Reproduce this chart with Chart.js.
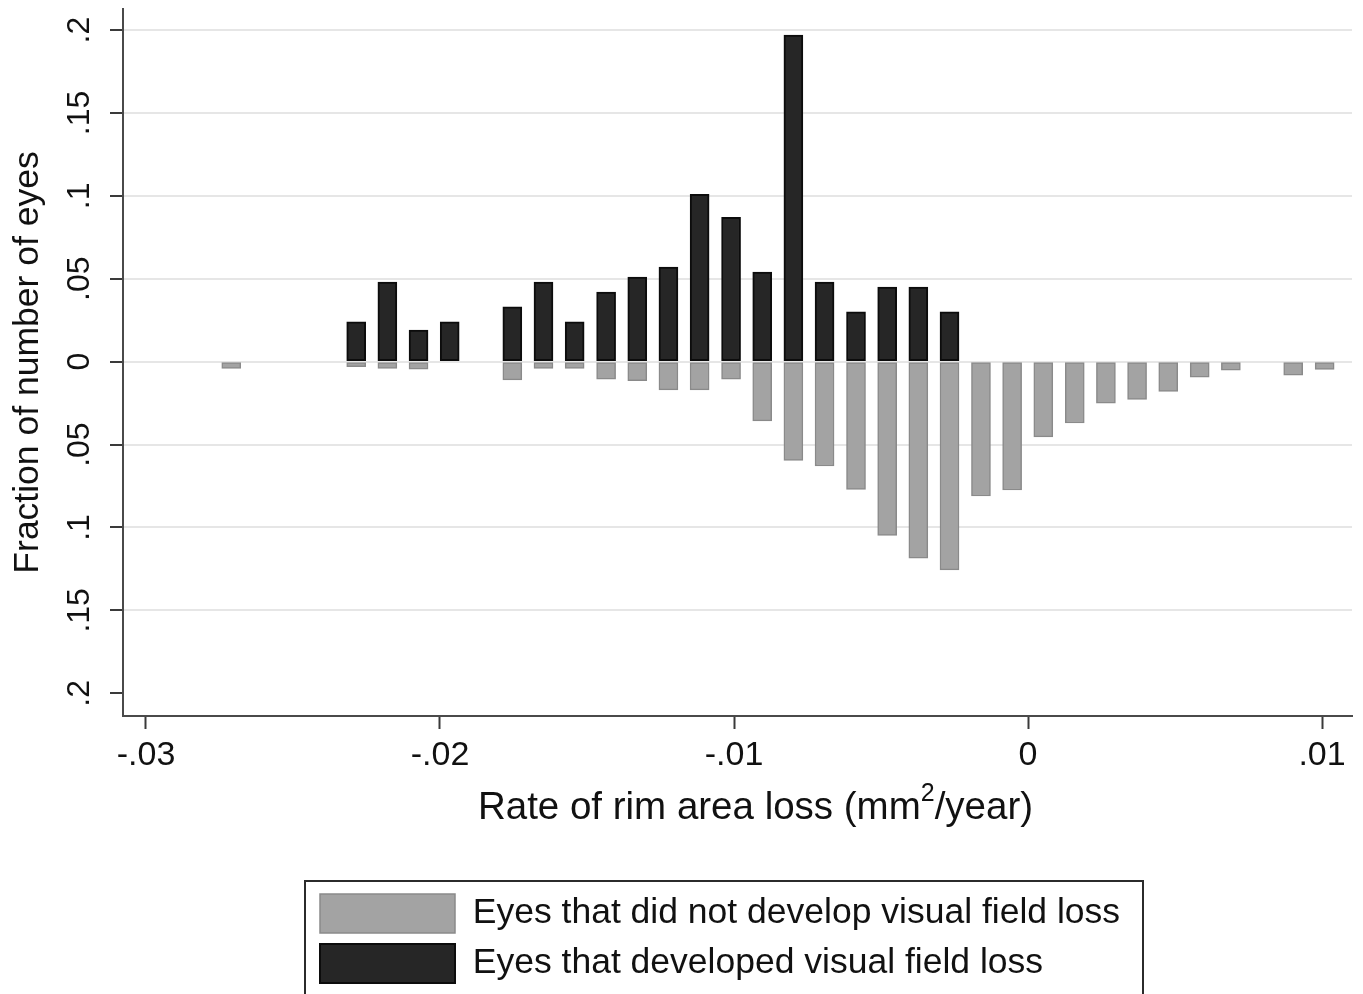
<!DOCTYPE html>
<html>
<head>
<meta charset="utf-8">
<script src="https://cdn.jsdelivr.net/npm/chart.js@4.4.1/dist/chart.umd.min.js"></script>
<style>
  html, body { margin: 0; padding: 0; background: #ffffff; }
  #wrap { width: 1363px; height: 994px; }
</style>
</head>
<body>
<div id="wrap"><canvas id="chart" width="1363" height="994"></canvas></div>
<script>
// Histogram bin midpoints, rate of rim area loss (mm²/year)
const binCenters = [
  -0.02710, -0.02285, -0.02179, -0.02073, -0.01967,
  -0.01754, -0.01648, -0.01542, -0.01435, -0.01329, -0.01223, -0.01117, -0.01010,
  -0.00904, -0.00798, -0.00692, -0.00585, -0.00479, -0.00373, -0.00267,
  -0.00160, -0.00054, 0.00052, 0.00159, 0.00265, 0.00371, 0.00477, 0.00584,
  0.00690, 0.00902, 0.01009
];

// Fraction of eyes that developed visual field loss (plotted upward)
const developedLoss = [
  null, 0.024, 0.048, 0.019, 0.024,
  0.033, 0.048, 0.024, 0.042, 0.051, 0.057, 0.101, 0.087,
  0.054, 0.197, 0.048, 0.030, 0.045, 0.045, 0.030,
  null, null, null, null, null, null, null, null,
  null, null, null
];

// Fraction of eyes that did not develop visual field loss (mirrored downward)
const noLoss = [
  -0.004, -0.003, -0.004, -0.0045, null,
  -0.011, -0.004, -0.004, -0.0105, -0.0115, -0.017, -0.017, -0.0105,
  -0.0357, -0.0596, -0.0629, -0.077, -0.1048, -0.1185, -0.1256,
  -0.081, -0.0774, -0.0454, -0.037, -0.025, -0.0228, -0.0179, -0.0094,
  -0.0052, -0.0082, -0.0046
];

const xTickValues = [-0.03, -0.02, -0.01, 0, 0.01];
const yTickValues = [-0.2, -0.15, -0.1, -0.05, 0, 0.05, 0.1, 0.15, 0.2];

const seriesNames = [
  'Eyes that did not develop visual field loss',
  'Eyes that developed visual field loss'
];

// x-axis title pieces: main text, superscript, remainder
const xTitleParts = ['Rate of rim area loss (mm', '2', '/year)'];

const FONT = '"Liberation Sans", Arial, Helvetica, sans-serif';
Chart.defaults.font.family = FONT;
Chart.defaults.color = '#111111';

// Stata-style number labels: ".05", "-.01", "0"
function shortNum(v) {
  if (Math.abs(v) < 1e-9) return '0';
  const s = Math.abs(v).toFixed(3).replace(/0+$/, '').replace(/^0/, '');
  return (v < 0 ? '-' : '') + s;
}

const toPoints = vals => binCenters.map((x, i) => ({ x: x, y: vals[i] }));

// Frames the key under the plot and writes the x-axis title with a raised exponent
const keyAndTitle = {
  id: 'keyAndTitle',
  afterLayout(chart) {
    chart.legend.left = 309;
  },
  afterDraw(chart) {
    const ctx = chart.ctx;
    const lg = chart.legend;
    ctx.save();
    ctx.strokeStyle = '#2b2b2b';
    ctx.lineWidth = 2;
    ctx.strokeRect(lg.left - 4, lg.top - 2, 838, 140);

    const xs = chart.scales.x;
    const mainFont = '38.5px ' + FONT;
    const supFont = '25px ' + FONT;
    ctx.font = mainFont;
    const w1 = ctx.measureText(xTitleParts[0]).width;
    const w3 = ctx.measureText(xTitleParts[2]).width;
    ctx.font = supFont;
    const w2 = ctx.measureText(xTitleParts[1]).width;
    const total = w1 + w2 + w3;
    const cx = (xs.left + xs.right) / 2 + 18;
    const midY = xs.top + 92;
    let x = cx - total / 2;
    ctx.fillStyle = '#111111';
    ctx.textBaseline = 'middle';
    ctx.textAlign = 'left';
    ctx.font = mainFont;
    ctx.fillText(xTitleParts[0], x, midY);
    x += w1;
    ctx.font = supFont;
    ctx.fillText(xTitleParts[1], x, midY - 14);
    x += w2;
    ctx.font = mainFont;
    ctx.fillText(xTitleParts[2], x, midY);
    ctx.restore();
  }
};

new Chart(document.getElementById('chart'), {
  type: 'bar',
  data: {
    datasets: [
      {
        label: seriesNames[0],
        data: toPoints(noLoss),
        backgroundColor: '#a3a3a3',
        borderColor: '#8a8a8a',
        borderWidth: 1.5,
        borderSkipped: false,
        grouped: false,
        barThickness: 19
      },
      {
        label: seriesNames[1],
        data: toPoints(developedLoss),
        backgroundColor: '#262626',
        borderColor: '#0c0c0c',
        borderWidth: 2,
        borderSkipped: false,
        grouped: false,
        barThickness: 19
      }
    ]
  },
  options: {
    responsive: false,
    animation: false,
    devicePixelRatio: 1,
    layout: { padding: { top: 9, right: 11, bottom: 1, left: 0 } },
    plugins: {
      tooltip: { enabled: false },
      legend: {
        position: 'bottom',
        align: 'start',
        labels: {
          boxWidth: 135,
          boxHeight: 39,
          padding: 11,
          color: '#111111',
          font: { size: 35.5, family: FONT }
        }
      }
    },
    scales: {
      x: {
        type: 'linear',
        offset: false,
        min: -0.030782,
        max: 0.011020,
        afterBuildTicks: s => { s.ticks = xTickValues.map(v => ({ value: v })); },
        afterFit: s => { s.height = 167; s.paddingLeft = 0; s.paddingRight = 0; },
        grid: {
          offset: false,
          drawOnChartArea: false,
          drawTicks: true,
          tickLength: 13,
          tickWidth: 2,
          tickColor: '#3a3a3a',
          color: '#3a3a3a'
        },
        border: { display: true, color: '#4a4a4a', width: 2 },
        ticks: {
          autoSkip: false,
          maxRotation: 0,
          padding: 6,
          color: '#111111',
          font: { size: 34 },
          callback: v => shortNum(v)
        },
        title: { display: false }
      },
      y: {
        type: 'linear',
        min: -0.2137,
        max: 0.2127,
        afterBuildTicks: s => { s.ticks = yTickValues.map(v => ({ value: v })); },
        afterFit: s => { s.width = 123; s.paddingTop = 0; s.paddingBottom = 0; },
        grid: {
          color: c => (c.tick && Math.abs(c.tick.value + 0.2) < 1e-9) ? 'rgba(0,0,0,0)' : '#e6e6e6',
          lineWidth: 2,
          drawTicks: true,
          tickLength: 13,
          tickWidth: 2,
          tickColor: '#3a3a3a'
        },
        border: { display: true, color: '#4a4a4a', width: 2 },
        ticks: {
          autoSkip: false,
          minRotation: 90,
          maxRotation: 90,
          crossAlign: 'center',
          padding: 8,
          color: '#111111',
          font: { size: 32 },
          callback: v => shortNum(Math.abs(v))
        },
        title: {
          display: true,
          text: 'Fraction of number of eyes',
          color: '#111111',
          font: { size: 35.5 },
          padding: { top: 7, bottom: 0 }
        }
      }
    }
  },
  plugins: [keyAndTitle]
});
</script>
</body>
</html>
